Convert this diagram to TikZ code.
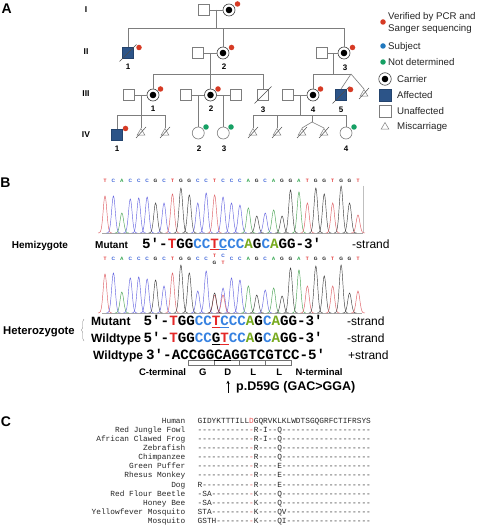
\documentclass[tikz,border=0pt]{standalone}
\usepackage{fontspec}
\setmainfont{Liberation Sans}
\setmonofont{Liberation Mono}
\usetikzlibrary{arrows.meta,decorations.pathreplacing,calc,shapes.geometric}
\definecolor{pedline}{RGB}{125,125,125}
\definecolor{affblue}{RGB}{44,84,136}
\definecolor{dotred}{RGB}{214,58,36}
\definecolor{dotblue}{RGB}{32,120,190}
\definecolor{dotgreen}{RGB}{22,160,100}
\definecolor{trT}{RGB}{222,95,100}
\definecolor{trC}{RGB}{100,100,225}
\definecolor{trA}{RGB}{75,165,85}
\definecolor{trG}{RGB}{60,60,60}
\definecolor{lT}{RGB}{225,50,50}
\definecolor{lC}{RGB}{55,95,215}
\definecolor{lA}{RGB}{40,160,70}
\definecolor{lG}{RGB}{30,30,30}
\definecolor{sqR}{RGB}{228,40,40}
\definecolor{sqB}{RGB}{55,130,225}
\definecolor{sqA}{RGB}{120,170,30}
\definecolor{alnred}{RGB}{235,80,80}
\ExplSyntaxOn
\cs_new:Npn \dsh #1 { \prg_replicate:nn {#1} {-} }
\ExplSyntaxOff
\newcommand\bT[1]{\textcolor{sqR}{#1}}
\newcommand\bC[1]{\textcolor{sqB}{#1}}
\newcommand\bA[1]{\textcolor{sqA}{#1}}
\newcommand\rd[1]{\textcolor{alnred}{#1}}
\newcommand\slashit[1]{\draw[slashln] ($(#1.center)+(-8.5,8.5)$) -- ($(#1.center)+(8.5,-8.5)$);}
\newcommand\mslash[1]{\draw[slashln] ($(#1.center)+(-5,5)$) -- ($(#1.center)+(5,-6)$);}
\begin{document}
\begin{tikzpicture}[x=1pt,y=-1pt,
  pl/.style={draw=pedline, line width=0.6pt},
  slashln/.style={draw=black!70, line width=0.5pt},
  sqn/.style={rectangle, draw=pedline, fill=white, line width=0.6pt, minimum size=11.5pt, inner sep=0pt},
  affn/.style={sqn, fill=affblue, draw=affblue!80!black},
  circn/.style={circle, draw=pedline, fill=white, line width=0.6pt, minimum size=12pt, inner sep=0pt},
  carn/.style={circn, draw=black!75, path picture={\fill[black] (path picture bounding box.center) circle (3.3pt);}},
  miscn/.style={regular polygon, regular polygon sides=3, draw=pedline, fill=white, line width=0.5pt, minimum size=9pt, inner sep=0pt},
  mdot/.style={circle, fill=#1, minimum size=5.5pt, inner sep=0pt},
  panel/.style={font=\bfseries\fontsize{14}{16}\selectfont, inner sep=0pt},
  glab/.style={font=\bfseries\fontsize{8.5}{10}\selectfont, inner sep=0pt},
  ilab/.style={font=\bfseries\fontsize{8}{9}\selectfont, inner sep=0pt},
  legtxt/.style={font=\fontsize{9.7}{11}\selectfont, anchor=base west, inner sep=0pt, text=black!85},
  chl/.style={font=\bfseries\fontsize{4.8}{5}\selectfont, inner sep=0pt},
  seq/.style={font=\ttfamily\bfseries\fontsize{14.2}{15}\selectfont, anchor=base west, inner sep=0pt},
  blab/.style={font=\bfseries\fontsize{12}{13}\selectfont, anchor=base west, inner sep=0pt},
  strand/.style={font=\fontsize{12}{13}\selectfont, anchor=base west, inner sep=0pt},
  aal/.style={font=\bfseries\fontsize{9.5}{11}\selectfont, anchor=base, inner sep=0pt},
  alnname/.style={font=\ttfamily\fontsize{7.8}{9}\selectfont, anchor=base east, inner sep=0pt, text=black!85},
  alnseq/.style={font=\ttfamily\fontsize{7.8}{9}\selectfont, anchor=base west, inner sep=0pt, text=black!85},
]
\useasboundingbox (0,0) rectangle (478,529);
\fill[white] (0,0) rectangle (478,529);

% panel labels
\node[panel] (pA) at (6.7,8.3) {A};
\node[panel] (pB) at (5.5,183) {B};
\node[panel] (pC) at (6,422) {C};

% generation labels
\node[glab] (g1) at (86,10) {I};
\node[glab] (g2) at (86,52) {II};
\node[glab] (g3) at (86,94) {III};
\node[glab] (g4) at (86,135) {IV};

% ---------- Generation I
\node[sqn] (I1) at (204,10) {};
\node[carn] (I2) at (229,10) {};
\node[mdot=dotred] (I2d) at (237.5,4) {};
\draw[pl] (I1) -- (I2);
\coordinate (mI) at (216.5,10);
\coordinate (sI) at (216.5,28);
\draw[pl] (mI) -- (sI);

% ---------- Generation II
\node[affn] (II1) at (128,53) {};
\node[sqn] (II2s) at (198,53) {};
\node[carn] (II2) at (223,53) {};
\node[sqn] (II3s) at (322,53) {};
\node[carn] (II3) at (344,53) {};
\draw[pl] (II1.north |- sI) -- (II3.north |- sI);
\draw[pl] (II1.north) -- (II1.north |- sI);
\draw[pl] (II2.north) -- (II2.north |- sI);
\draw[pl] (II3.north) -- (II3.north |- sI);
\slashit{II1}
\node[mdot=dotred] (II1d) at (139,47.5) {};
\node[mdot=dotred] (II2d) at (231.5,47.5) {};
\node[mdot=dotred] (II3d) at (352.5,47.5) {};
\node[ilab] (II1l) at (128,67) {1};
\node[ilab] (II2l) at (224,67) {2};
\node[ilab] (II3l) at (345,67.5) {3};
\draw[pl] (II2s) -- (II2);
\draw[pl] (II3s) -- (II3);
\coordinate (mII2) at ($(II2s)!0.5!(II2)$);
\coordinate (sII2) at ($(mII2)+(0,21)$);
\coordinate (mII3) at ($(II3s)!0.5!(II3)$);
\coordinate (sII3) at ($(mII3)+(0,21)$);
\draw[pl] (mII2) -- (sII2);
\draw[pl] (mII3) -- (sII3);

% ---------- Generation III
\node[sqn] (III1s) at (129,95) {};
\node[carn] (III1) at (153,95) {};
\node[sqn] (III2a) at (186,95) {};
\node[carn] (III2) at (210.5,95) {};
\node[sqn] (III2b) at (236,95) {};
\node[sqn] (III3) at (263,95) {};
\node[sqn] (III4s) at (288,95) {};
\node[carn] (III4) at (313,95) {};
\node[affn] (III5) at (341,95) {};
\node[miscn] (III6) at (364,94) {};
\draw[pl] (III1.north |- sII2) -- (III3.north |- sII2);
\draw[pl] (III1.north) -- (III1.north |- sII2);
\draw[pl] (III2.north) -- (III2.north |- sII2);
\draw[pl] (III3.north) -- (III3.north |- sII2);
\coordinate (tw3) at (351,74);
\draw[pl] (III4.north |- sII3) -- (tw3);
\draw[pl] (III4.north) -- (III4.north |- sII3);
\draw[pl] (tw3) -- (III5.north);
\draw[pl] (tw3) -- (III6.corner 1);
\slashit{III3}
\slashit{III5}
\mslash{III6}
\node[mdot=dotred] (III1d) at (160.5,89) {};
\node[mdot=dotred] (III2d) at (218,89) {};
\node[mdot=dotred] (III4d) at (320.5,89) {};
\node[mdot=dotred] (III5d) at (350.5,89.5) {};
\node[ilab] (III1l) at (153,109) {1};
\node[ilab] (III2l) at (211,109) {2};
\node[ilab] (III3l) at (263,109.5) {3};
\node[ilab] (III4l) at (313,109.5) {4};
\node[ilab] (III5l) at (341,109.5) {5};
\draw[pl] (III1s) -- (III1);
\draw[pl] (III2a) -- (III2);
\draw[pl] (III2) -- (III2b);
\draw[pl] (III4s) -- (III4);
\coordinate (mIII1) at ($(III1s)!0.5!(III1)$);
\coordinate (sIII1) at ($(mIII1)+(0,20)$);
\coordinate (mIII2a) at ($(III2a)!0.5!(III2)$);
\coordinate (mIII2b) at ($(III2)!0.5!(III2b)$);
\coordinate (mIII4) at ($(III4s)!0.5!(III4)$);
\coordinate (sIII4) at ($(mIII4)+(0,20)$);

% ---------- Generation IV
\node[affn] (IV1) at (117,135) {};
\node[miscn] (IVm1) at (141,133) {};
\node[miscn] (IVm2) at (165,133) {};
\node[circn] (IV2) at (198.25,133) {};
\node[circn] (IV3) at (223.25,133) {};
\node[miscn] (IVm3) at (253,133) {};
\node[miscn] (IVm4) at (277,133) {};
\node[miscn] (IVm5) at (302,133) {};
\node[miscn] (IVm6) at (324,133) {};
\node[circn] (IV4) at (346,133) {};
\draw[pl] (mIII1) -- (sIII1);
\draw[pl] (IV1.north |- sIII1) -- (IVm2.corner 1 |- sIII1);
\draw[pl] (IV1.north) -- (IV1.north |- sIII1);
\draw[pl] (IVm1.corner 1) -- (IVm1.corner 1 |- sIII1);
\draw[pl] (IVm2.corner 1) -- (IVm2.corner 1 |- sIII1);
\draw[pl] (mIII2a) -- (IV2.north);
\draw[pl] (mIII2b) -- (IV3.north);
\draw[pl] (mIII4) -- (sIII4);
\draw[pl] (IVm3.corner 1 |- sIII4) -- (IV4.north |- sIII4);
\draw[pl] (IVm3.corner 1) -- (IVm3.corner 1 |- sIII4);
\draw[pl] (IVm4.corner 1) -- (IVm4.corner 1 |- sIII4);
\coordinate (tw4) at (312,115);
\coordinate (tw4b) at (312,122);
\draw[pl] (tw4) -- (tw4b);
\draw[pl] (tw4b) -- (IVm5.corner 1);
\draw[pl] (tw4b) -- (IVm6.corner 1);
\draw[pl] (IV4.north) -- (IV4.north |- sIII4);
\mslash{IVm1}\mslash{IVm2}\mslash{IVm3}\mslash{IVm4}\mslash{IVm5}\mslash{IVm6}
\node[mdot=dotred] (IV1d) at (125.5,128.5) {};
\node[mdot=dotgreen] (IV2d) at (206,127) {};
\node[mdot=dotgreen] (IV3d) at (231,127) {};
\node[mdot=dotgreen] (IV4d) at (354,127) {};
\node[ilab] (IV1l) at (117,148.5) {1};
\node[ilab] (IV2l) at (199,148.5) {2};
\node[ilab] (IV3l) at (224,148.5) {3};
\node[ilab] (IV4l) at (346,148.5) {4};

% ---------- Legend
\node[mdot=dotred] (lg1) at (383,22) {};
\node[legtxt] (lg1t) at (388,19.5) {Verified by PCR and};
\node[legtxt] (lg1u) at (388,31.5) {Sanger sequencing};
\node[mdot=dotblue] (lg2) at (383,46) {};
\node[legtxt] (lg2t) at (388,49.5) {Subject};
\node[mdot=dotgreen] (lg3) at (383,62) {};
\node[legtxt] (lg3t) at (388,65.5) {Not determined};
\node[carn, minimum size=12.5pt] (lg4) at (385,79) {};
\node[legtxt] (lg4t) at (397,82.5) {Carrier};
\node[affn, minimum size=12pt] (lg5) at (385,95) {};
\node[legtxt] (lg5t) at (397,98.5) {Affected};
\node[sqn, minimum size=12pt] (lg6) at (385,111) {};
\node[legtxt] (lg6t) at (397,114.5) {Unaffected};
\node[miscn] (lg7) at (385,127) {};
\node[legtxt] (lg7t) at (397,129.5) {Miscarriage};

% ---------- Chromatogram 1
\draw[black!35, line width=0.5pt] (102,233) -- (363,233);
\draw[black!25, line width=0.5pt] (363,186) -- (363,233);
\foreach \b/\h [count=\i] in {T/37,C/37,A/20,C/34,C/35,C/36,G/30,C/30,T/39,G/45,G/38,C/30,C/40,T/38,C/36,C/30,C/28,A/25,G/17,C/20,A/23,G/17,G/43,A/41,T/30,G/45,G/39,T/30,G/47,G/30,T/18} {
  \pgfmathsetmacro\xx{105+(\i-1)*8.433}
  \draw[tr\b, line width=0.45pt] plot[domain=-7:7, samples=23, smooth] ({\xx+\x},{233-\h*exp(-(\x*\x)/6.5)});
  \node[chl, text=l\b] (ca\i) at (\xx,181) {\b};
}

% ---------- Hemizygote
\node[font=\bfseries\fontsize{10}{12}\selectfont, anchor=base west, inner sep=0pt] (hz) at (11.7,248) {Hemizygote};
\node[font=\bfseries\fontsize{10}{12}\selectfont, anchor=base west, inner sep=0pt] (hzm) at (95,248) {Mutant};
\node[seq] (hzs) at (142,248) {5′-\bT{T}GG\bC{CC}\bT{\underline{T}}\bC{\underline{C}CC}\bA{A}G\bC{C}\bA{A}GG-3′};
\node[strand] (hzst) at (352,248) {-strand};

% ---------- Chromatogram 2
\draw[black!35, line width=0.5pt] (102,313) -- (362,313);
\foreach \b/\h [count=\i] in {T/39,C/40,A/21,C/35,C/36,C/34,G/33,C/27,T/40,G/48,G/40,C/22,C/42,T/18,C/25,C/35,C/33,A/27,G/18,C/23,A/25,G/17,G/45,A/43,T/27,G/47,G/37,T/27,G/48,G/20,T/22} {
  \pgfmathsetmacro\xx{105+(\i-1)*8.433}
  \draw[tr\b, line width=0.45pt] plot[domain=-7:7, samples=23, smooth] ({\xx+\x},{313-\h*exp(-(\x*\x)/6.5)});
}
\draw[trG, line width=0.45pt] plot[domain=-7:7, samples=23, smooth] ({214.6+\x},{313-20*exp(-(\x*\x)/6.5)});
\draw[trT, line width=0.45pt] plot[domain=-7:7, samples=23, smooth] ({223.0+\x},{313-18*exp(-(\x*\x)/6.5)});
\foreach \b [count=\i] in {T,C,A,C,C,C,G,C,T,G,G,C,C} {
  \node[chl, text=l\b] (cb\i) at ({105+(\i-1)*8.433},259) {\b};
}
\foreach \b [count=\i from 16] in {C,C,A,G,C,A,G,G,A,T,G,G,T,G,G,T} {
  \node[chl, text=l\b] (cb\i) at ({105+(\i-1)*8.433},259) {\b};
}
\node[chl, text=lT] (cb14t) at (214.6,255.5) {T};
\node[chl, text=lG] (cb14b) at (214.6,262.5) {G};
\node[chl, text=lC] (cb15t) at (223.0,255.5) {C};
\node[chl, text=lT] (cb15b) at (223.0,262.5) {T};

% ---------- Heterozygote
\node[font=\bfseries\fontsize{11.3}{13}\selectfont, anchor=base west, inner sep=0pt] (htz) at (3,334) {Heterozygote};
\draw[black!50, line width=0.4pt, decorate, decoration={brace, amplitude=2.5pt}] (84,341) -- (84,319);
\node[blab] (htm) at (91,325.7) {Mutant};
\node[seq] (hts1) at (143.5,325.7) {5′-\bT{T}GG\bC{CC}\bT{\underline{T}}\bC{\underline{C}CC}\bA{A}G\bC{C}\bA{A}GG-3′};
\node[strand] (htst1) at (347,325.7) {-strand};
\node[blab] (htw) at (91,342.3) {Wildtype};
\node[seq] (hts2) at (143.5,342.3) {5′-\bT{T}GG\bC{CC}\underline{G}\bT{\underline{T}}\bC{CC}\bA{A}G\bC{C}\bA{A}GG-3′};
\node[strand] (htst2) at (347,342.3) {-strand};
\node[blab] (htw2) at (93,359.3) {Wildtype};
\node[seq] (hts3) at (146,359.3) {3′-ACCGGCAGGTCGTCC-5′};
\node[strand] (htst3) at (348,359.3) {+strand};
\foreach \k in {0,1,2,3}
  \draw[black!55, line width=0.5pt] ({146+(5+3*\k)*8.52},360) rectangle ({146+(8+3*\k)*8.52},365.5);
\draw[black, line width=0.7pt] ({146+8*8.52},360) -- ({146+10*8.52},360);

\node[aal] (ct) at (162.5,375) {C-terminal};
\node[aal] (aG) at (202.7,375) {G};
\node[aal] (aD) at (227.7,375) {D};
\node[aal] (aL1) at (253.3,375) {L};
\node[aal] (aL2) at (279.3,375) {L};
\node[aal] (nt) at (319,375) {N-terminal};
\coordinate (ar1) at (228,392.5);
\coordinate (ar2) at (228,380.5);
\draw[-{Stealth[length=3.5pt,width=3.2pt]}, line width=0.8pt] (ar1) -- (ar2);
\node[font=\bfseries\fontsize{12.5}{14}\selectfont, anchor=base west, inner sep=0pt] (mut) at (236,390) {p.D59G (GAC>GGA)};

% ---------- Alignment
\foreach \nm/\sq [count=\r] in {
  Human/{GIDYKTTTILL\rd{D}GQRVKLKLWDTSGQGRFCTIFRSYS},
  Red Jungle Fowl/{\dsh{11}\rd{-}R-I\dsh{2}Q\dsh{19}},
  African Clawed Frog/{\dsh{11}\rd{-}R-I\dsh{2}Q\dsh{19}},
  Zebrafish/{\dsh{11}\rd{-}R\dsh{4}Q\dsh{19}},
  Chimpanzee/{\dsh{11}\rd{-}R\dsh{4}Q\dsh{19}},
  Green Puffer/{\dsh{11}\rd{-}R\dsh{4}E\dsh{19}},
  Rhesus Monkey/{\dsh{11}\rd{-}R\dsh{4}E\dsh{19}},
  Dog/{R\dsh{10}\rd{-}R\dsh{4}E\dsh{19}},
  Red Flour Beetle/{-SA\dsh{8}\rd{-}K\dsh{4}Q\dsh{19}},
  Honey Bee/{-SA\dsh{8}\rd{-}K\dsh{4}Q\dsh{19}},
  Yellowfever Mosquito/{STA\dsh{8}\rd{-}K\dsh{4}QV\dsh{18}},
  Mosquito/{GSTH\dsh{7}\rd{-}K\dsh{4}QI\dsh{18}}} {
  \node[alnname] (an\r) at (185.5,{423.3+(\r-1)*9.1}) {\nm};
  \node[alnseq] (as\r) at (197.5,{423.3+(\r-1)*9.1}) {\sq};
}
\end{tikzpicture}
\end{document}
